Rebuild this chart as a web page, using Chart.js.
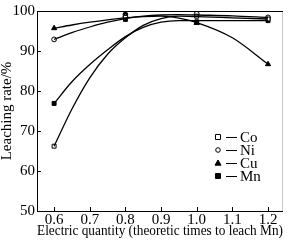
<!DOCTYPE html>
<html>
<head>
  <title>Leaching rate</title>
  <style>
    html, body { margin: 0; padding: 0; background: #fff; }
    #wrap { width: 288px; height: 243px; }
  </style>
</head>
<body>
  <div id="wrap"><canvas id="chart" width="288" height="243"></canvas></div>

  <script src="https://cdn.jsdelivr.net/npm/chart.js@4/dist/chart.umd.min.js"></script>
  <script>
    // measured points
    var pointX = [0.6, 0.8, 1.0, 1.2];
    var coPoints = [66.2, 98.4, 98.7, 98.0];
    var niPoints = [92.9, 98.6, 99.3, 98.4];
    var cuPoints = [95.7, 99.5, 97.0, 86.7];
    var mnPoints = [76.9, 97.9, 97.3, 97.6];

    // fitted curves
    var curveX = [0.6, 0.65, 0.7, 0.75, 0.8, 0.85, 0.9, 0.95, 1.0, 1.1, 1.2];
    var coCurve = [66.2, 75.5, 83.3, 89.2, 93.3, 96.4, 98.1, 98.7, 98.6, 98.3, 98.0];
    var niCurve = [92.9, 94.6, 96.0, 97.2, 98.1, 98.7, 99.0, 99.1, 99.0, 98.8, 98.4];
    var cuCurve = [95.7, 96.5, 97.2, 97.8, 98.3, 98.6, 98.7, 98.2, 97.1, 93.3, 86.7];
    var mnCurve = [76.9, 82.3, 86.6, 90.3, 93.6, 95.9, 97.2, 97.6, 97.6, 97.6, 97.6];

    var xTicks = [0.6, 0.7, 0.8, 0.9, 1.0, 1.1, 1.2];
    var yTicks = [50, 60, 70, 80, 90, 100];

    var serif = "'Liberation Serif', 'Times New Roman', serif";

    function pairs(xs, ys) {
      return xs.map(function(x, i) { return { x: x, y: ys[i] }; });
    }

    function curve(ys) {
      return {
        data: pairs(curveX, ys),
        showLine: true,
        borderColor: '#000',
        borderWidth: 1.3,
        pointRadius: 0,
        cubicInterpolationMode: 'monotone',
        fill: false
      };
    }

    function marks(ys, style, fill, r) {
      return {
        data: pairs(pointX, ys),
        showLine: false,
        pointStyle: style,
        pointRadius: r,
        pointBackgroundColor: fill,
        pointBorderColor: '#000',
        pointBorderWidth: 1
      };
    }

    var legendItems = [
      { label: 'Co', style: 'rect', fill: '#fff' },
      { label: 'Ni', style: 'circle', fill: '#fff' },
      { label: 'Cu', style: 'triangle', fill: '#000' },
      { label: 'Mn', style: 'rect', fill: '#000' }
    ];

    function drawMarker(ctx, style, fill, x, y) {
      ctx.save();
      ctx.fillStyle = fill;
      ctx.strokeStyle = '#000';
      ctx.lineWidth = 1;
      ctx.beginPath();
      if (style === 'rect') {
        ctx.rect(x - 2.5, y - 2.5, 5, 5);
      } else if (style === 'circle') {
        ctx.arc(x, y, 2.3, 0, Math.PI * 2);
      } else {
        ctx.moveTo(x, y - 3);
        ctx.lineTo(x + 3, y + 2.2);
        ctx.lineTo(x - 3, y + 2.2);
        ctx.closePath();
      }
      ctx.fill();
      ctx.stroke();
      ctx.restore();
    }

    var framePlugin = {
      id: 'frame',
      afterDraw: function(chart) {
        var ctx = chart.ctx;
        var a = chart.chartArea;
        var xs = chart.scales.x;
        var ys = chart.scales.y;
        ctx.save();
        ctx.lineWidth = 1;
        // faint right edge
        ctx.strokeStyle = '#c8c8c8';
        ctx.beginPath();
        ctx.moveTo(a.right - 0.5, a.top);
        ctx.lineTo(a.right - 0.5, a.bottom);
        ctx.stroke();
        ctx.strokeStyle = '#000';
        ctx.beginPath();
        ctx.moveTo(a.right, a.top + 0.5);
        ctx.lineTo(a.left + 0.5, a.top + 0.5);
        ctx.lineTo(a.left + 0.5, a.bottom + 0.5);
        ctx.lineTo(a.right, a.bottom + 0.5);
        xTicks.forEach(function(v) {
          var px = Math.round(xs.getPixelForValue(v)) + 0.5;
          ctx.moveTo(px, a.bottom);
          ctx.lineTo(px, a.bottom - 4);
        });
        yTicks.forEach(function(v) {
          var py = Math.round(ys.getPixelForValue(v)) + 0.5;
          ctx.moveTo(a.left, py);
          ctx.lineTo(a.left + 4, py);
        });
        ctx.stroke();

        // legend
        ctx.font = '15px ' + serif;
        ctx.fillStyle = '#000';
        ctx.textBaseline = 'middle';
        var rows = [137, 150, 163, 176];
        legendItems.forEach(function(item, i) {
          var y = rows[i];
          drawMarker(ctx, item.style, item.fill, 218, y);
          ctx.beginPath();
          ctx.moveTo(226, y + 0.5);
          ctx.lineTo(237, y + 0.5);
          ctx.stroke();
          ctx.fillText(item.label, 240, y + 1);
        });
        ctx.restore();
      }
    };

    new Chart(document.getElementById('chart'), {
      type: 'scatter',
      data: {
        datasets: [
          curve(coCurve), curve(niCurve), curve(cuCurve), curve(mnCurve),
          marks(coPoints, 'rect', '#fff', 2.8),
          marks(niPoints, 'circle', '#fff', 2.4),
          marks(cuPoints, 'triangle', '#000', 3),
          marks(mnPoints, 'rect', '#000', 2.8)
        ]
      },
      options: {
        responsive: false,
        animation: false,
        layout: { padding: { top: 4, right: 2, left: 0, bottom: 0 } },
        plugins: {
          legend: { display: false },
          tooltip: { enabled: false }
        },
        scales: {
          x: {
            type: 'linear',
            min: 0.552,
            max: 1.242,
            afterBuildTicks: function(scale) {
              scale.ticks = xTicks.map(function(v) { return { value: v }; });
            },
            afterFit: function(scale) { scale.height = 32; },
            grid: { display: false, drawTicks: false },
            border: { display: false },
            ticks: {
              color: '#000',
              padding: 2,
              font: { family: serif, size: 15, lineHeight: 1 },
              callback: function(v) { return v.toFixed(1); }
            },
            title: {
              display: true,
              text: 'Electric quantity (theoretic times to leach Mn)',
              color: '#000',
              padding: { top: 0, bottom: 4 },
              font: { family: serif, size: 15, lineHeight: 1 }
            }
          },
          y: {
            min: 50,
            max: 100,
            afterBuildTicks: function(scale) {
              scale.ticks = yTicks.map(function(v) { return { value: v }; });
            },
            afterFit: function(scale) { scale.width = 37; },
            grid: { display: false, drawTicks: false },
            border: { display: false },
            ticks: {
              color: '#000',
              padding: 2,
              font: { family: serif, size: 15 }
            },
            title: {
              display: true,
              text: 'Leaching rate/%',
              color: '#000',
              padding: { top: 0, bottom: 0 },
              font: { family: serif, size: 15, lineHeight: 1 }
            }
          }
        }
      },
      plugins: [framePlugin]
    });
  </script>
</body>
</html>
